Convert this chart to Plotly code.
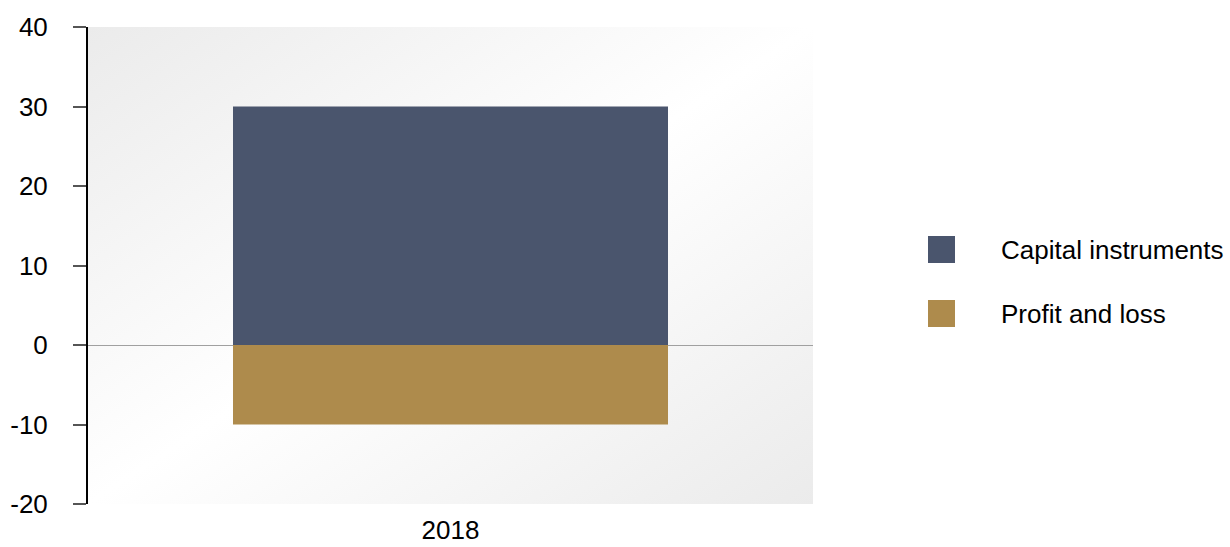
import base64
import plotly.graph_objects as go

# ---- data ----
categories = ["2018"]
series_names = ["Capital instruments", "Profit and loss"]
capital_instruments = [30]
profit_and_loss = [-10]
series_colors = ["#4a556d", "#ae8b4c"]
y_ticks = [-20, -10, 0, 10, 20, 30, 40]
y_tick_labels = ["-20", "-10", "0", "10", "20", "30", "40"]

W, H = 1230, 547
L, R, T, B = 88, 813, 27, 504  # plot area pixels
FONT = "Liberation Sans, Arial, sans-serif"
FS = 26

fig = go.Figure()
for name, vals, col in zip(series_names, [capital_instruments, profit_and_loss], series_colors):
    fig.add_trace(go.Bar(x=categories, y=vals, name=name, marker=dict(color=col, line=dict(width=0)),
                         showlegend=False))

# diagonal gradient background
svg = ('<svg xmlns="http://www.w3.org/2000/svg" width="725" height="477" viewBox="0 0 725 477" '
       'preserveAspectRatio="none"><defs><linearGradient id="g" x1="0" y1="0" x2="1" y2="1">'
       '<stop offset="0" stop-color="#ebebeb"/><stop offset="0.5" stop-color="#ffffff"/>'
       '<stop offset="1" stop-color="#ebebeb"/></linearGradient></defs>'
       '<rect x="0" y="0" width="725" height="477" fill="url(#g)"/></svg>')
src = "data:image/svg+xml;base64," + base64.b64encode(svg.encode()).decode()
fig.add_layout_image(dict(source=src, xref="paper", yref="paper", x=0, y=1, sizex=1, sizey=1,
                          xanchor="left", yanchor="top", sizing="stretch", layer="below"))

pw, ph = R - L, B - T
def px2paper(x, y):
    return (x - L) / pw, (B - y) / ph

# manual legend
for i, (name, col) in enumerate(zip(series_names, series_colors)):
    top = 236 + 64 * i
    x0, y0 = px2paper(928, top + 27)
    x1, y1 = px2paper(955, top)
    fig.add_shape(type="rect", xref="paper", yref="paper", x0=x0, y0=y0, x1=x1, y1=y1,
                  fillcolor=col, line=dict(width=0))
    tx, ty = px2paper(999, top + 14)
    fig.add_annotation(xref="paper", yref="paper", x=tx, y=ty, text=name, showarrow=False,
                       xanchor="left", yanchor="middle", font=dict(size=FS, color="#000", family=FONT))

fig.update_layout(
    width=W, height=H,
    margin=dict(l=L, r=W - R, t=T, b=H - B, pad=0, autoexpand=False),
    barmode="relative", bargap=0.4,
    paper_bgcolor="#ffffff", plot_bgcolor="rgba(0,0,0,0)",
    font=dict(family=FONT, size=FS, color="#000"),
    showlegend=False,
)
fig.update_xaxes(showgrid=False, zeroline=False, showline=False, ticks="", automargin=False,
                 ticklabelstandoff=8, tickfont=dict(size=FS))
fig.update_yaxes(range=[-20, 40], tickvals=y_ticks, ticktext=y_tick_labels, showgrid=False,
                 automargin=False,
                 zeroline=True, zerolinecolor="#a0a0a0", zerolinewidth=1,
                 showline=True, linecolor="#000", linewidth=2,
                 ticks="outside", ticklen=13, tickwidth=1.5, tickcolor="#555",
                 ticklabelstandoff=20, tickfont=dict(size=FS))

fig.write_html("out.html")
